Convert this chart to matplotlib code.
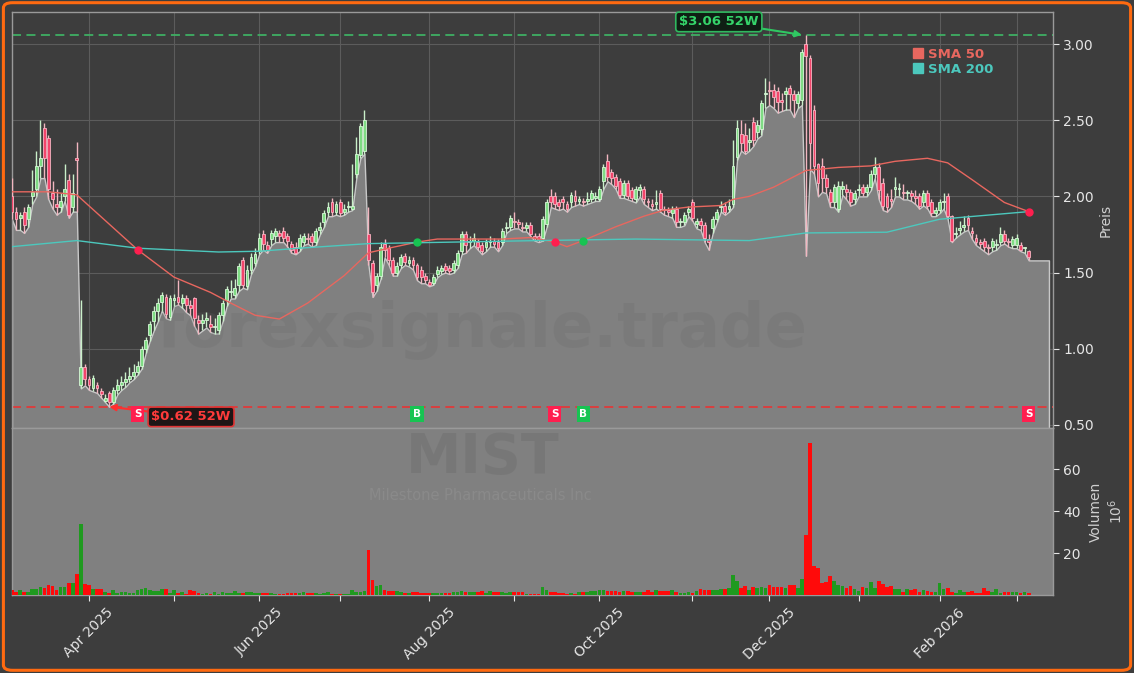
import numpy as np
import pandas as pd
import matplotlib
matplotlib.use("Agg")
import matplotlib.pyplot as plt
from matplotlib.lines import Line2D
from matplotlib.patches import FancyBboxPatch

# daily candles, MIST, 2025-03-05 .. 2026-03-05
opens = [
    2.00, 1.90, 1.86, 1.90, 1.85, 2.00, 2.05, 2.20, 2.45, 2.38,
    2.02, 1.95, 1.93, 2.00, 2.11, 1.93, 2.25, 0.76, 0.88, 0.80,
    0.74, 0.76, 0.72, 0.66, 0.71, 0.65, 0.73, 0.76, 0.78, 0.80,
    0.82, 0.85, 0.89, 1.00, 1.09, 1.18, 1.25, 1.31, 1.34, 1.21,
    1.32, 1.34, 1.30, 1.33, 1.29, 1.33, 1.19, 1.17, 1.19, 1.16,
    1.14, 1.12, 1.22, 1.32, 1.37, 1.35, 1.42, 1.58, 1.41, 1.52,
    1.56, 1.64, 1.75, 1.68, 1.72, 1.74, 1.76, 1.77, 1.74, 1.69,
    1.67, 1.66, 1.70, 1.73, 1.74, 1.70, 1.78, 1.83, 1.90, 1.96,
    1.90, 1.96, 1.90, 1.93, 1.92, 2.15, 2.27, 2.30, 1.75, 1.56,
    1.42, 1.48, 1.69, 1.66, 1.58, 1.50, 1.55, 1.61, 1.56, 1.58,
    1.55, 1.52, 1.48, 1.44, 1.43, 1.49, 1.51, 1.54, 1.53, 1.52,
    1.55, 1.64, 1.75, 1.70, 1.71, 1.70, 1.68, 1.67, 1.70, 1.71,
    1.70, 1.70, 1.79, 1.80, 1.84, 1.83, 1.80, 1.79, 1.81, 1.74,
    1.74, 1.73, 1.82, 2.00, 2.00, 1.96, 1.98, 1.95, 1.96, 2.00,
    1.97, 1.97, 1.97, 1.98, 1.99, 1.98, 2.10, 2.23, 2.16, 2.13,
    2.10, 2.01, 2.09, 2.04, 1.98, 2.04, 2.05, 1.97, 1.95, 1.95,
    2.02, 1.92, 1.91, 1.89, 1.92, 1.83, 1.83, 1.90, 1.96, 1.82,
    1.84, 1.81, 1.72, 1.79, 1.85, 1.93, 1.94, 1.92, 1.95, 2.26,
    2.41, 2.40, 2.36, 2.49, 2.42, 2.44, 2.67, 2.70, 2.70, 2.69,
    2.63, 2.67, 2.71, 2.67, 2.61, 2.63, 3.00, 2.91, 2.57, 2.21,
    2.20, 2.12, 2.03, 1.96, 1.92, 2.05, 2.05, 2.03, 1.98, 2.04,
    2.06, 2.03, 2.06, 2.15, 2.19, 2.09, 2.00, 1.98, 2.05, 2.05,
    2.03, 2.02, 2.02, 2.00, 2.00, 1.96, 2.02, 1.96, 1.89, 1.91,
    1.96, 2.00, 1.87, 1.75, 1.78, 1.80, 1.86, 1.77, 1.73, 1.70,
    1.71, 1.67, 1.67, 1.68, 1.70, 1.75, 1.71, 1.68, 1.68, 1.68,
    1.66, 1.64,
]
highs = [
    2.12, 1.93, 1.90, 1.93, 1.95, 2.17, 2.30, 2.50, 2.48, 2.40,
    2.10, 2.05, 2.02, 2.21, 2.15, 2.15, 2.36, 1.32, 0.90, 0.82,
    0.83, 0.78, 0.74, 0.70, 0.72, 0.75, 0.80, 0.82, 0.85, 0.88,
    0.90, 0.92, 1.02, 1.08, 1.18, 1.28, 1.33, 1.37, 1.36, 1.35,
    1.36, 1.45, 1.36, 1.35, 1.32, 1.34, 1.22, 1.23, 1.24, 1.22,
    1.20, 1.24, 1.32, 1.41, 1.45, 1.46, 1.56, 1.60, 1.55, 1.63,
    1.66, 1.76, 1.78, 1.71, 1.78, 1.79, 1.78, 1.80, 1.76, 1.71,
    1.70, 1.75, 1.76, 1.76, 1.76, 1.79, 1.83, 1.91, 1.96, 1.99,
    1.97, 1.98, 1.95, 1.97, 2.21, 2.39, 2.48, 2.57, 1.93, 1.58,
    1.50, 1.70, 1.72, 1.68, 1.60, 1.57, 1.62, 1.63, 1.61, 1.60,
    1.56, 1.54, 1.50, 1.46, 1.49, 1.54, 1.55, 1.56, 1.55, 1.58,
    1.65, 1.77, 1.77, 1.74, 1.76, 1.72, 1.70, 1.72, 1.74, 1.73,
    1.72, 1.79, 1.83, 1.88, 1.90, 1.85, 1.83, 1.83, 1.83, 1.76,
    1.76, 1.87, 1.98, 2.05, 2.03, 1.98, 2.00, 1.97, 2.03, 2.04,
    2.00, 1.99, 2.03, 2.04, 2.03, 2.07, 2.21, 2.28, 2.18, 2.15,
    2.12, 2.11, 2.11, 2.06, 2.07, 2.08, 2.07, 1.99, 1.98, 2.04,
    2.04, 1.94, 1.93, 1.94, 1.94, 1.86, 1.90, 1.94, 1.98, 1.86,
    1.86, 1.83, 1.75, 1.87, 1.92, 1.97, 1.96, 1.98, 2.37, 2.50,
    2.50, 2.48, 2.45, 2.52, 2.50, 2.63, 2.78, 2.76, 2.74, 2.72,
    2.68, 2.72, 2.73, 2.70, 2.69, 2.97, 3.06, 2.93, 2.60, 2.22,
    2.25, 2.15, 2.05, 2.08, 2.10, 2.10, 2.08, 2.05, 2.04, 2.08,
    2.08, 2.08, 2.17, 2.26, 2.22, 2.12, 2.02, 2.05, 2.13, 2.09,
    2.08, 2.04, 2.04, 2.04, 2.02, 2.04, 2.04, 1.98, 1.93, 1.98,
    2.02, 2.02, 1.88, 1.80, 1.84, 1.87, 1.88, 1.80, 1.75, 1.72,
    1.73, 1.69, 1.73, 1.72, 1.80, 1.78, 1.73, 1.74, 1.75, 1.70,
    1.67, 1.65,
]
lows = [
    1.85, 1.78, 1.78, 1.76, 1.80, 1.95, 2.00, 2.12, 2.12, 1.98,
    1.92, 1.88, 1.90, 1.97, 1.86, 1.90, 1.90, 0.74, 0.76, 0.73,
    0.72, 0.71, 0.68, 0.65, 0.62, 0.64, 0.70, 0.73, 0.75, 0.78,
    0.80, 0.83, 0.87, 0.97, 1.05, 1.12, 1.18, 1.25, 1.20, 1.19,
    1.28, 1.29, 1.27, 1.24, 1.22, 1.15, 1.10, 1.12, 1.14, 1.11,
    1.10, 1.10, 1.18, 1.28, 1.33, 1.33, 1.38, 1.40, 1.39, 1.49,
    1.54, 1.62, 1.65, 1.63, 1.68, 1.70, 1.70, 1.70, 1.67, 1.63,
    1.62, 1.64, 1.68, 1.69, 1.67, 1.68, 1.75, 1.80, 1.87, 1.87,
    1.88, 1.87, 1.88, 1.90, 1.91, 2.12, 2.25, 2.28, 1.55, 1.34,
    1.38, 1.46, 1.60, 1.55, 1.48, 1.48, 1.53, 1.55, 1.54, 1.52,
    1.45, 1.43, 1.43, 1.41, 1.42, 1.47, 1.49, 1.50, 1.49, 1.50,
    1.53, 1.62, 1.63, 1.66, 1.68, 1.65, 1.62, 1.64, 1.67, 1.67,
    1.64, 1.68, 1.76, 1.78, 1.79, 1.79, 1.77, 1.77, 1.74, 1.71,
    1.70, 1.71, 1.80, 1.93, 1.92, 1.91, 1.92, 1.90, 1.93, 1.94,
    1.95, 1.94, 1.95, 1.96, 1.97, 1.97, 2.05, 2.10, 2.08, 2.05,
    1.99, 1.99, 1.98, 1.97, 1.96, 2.00, 1.95, 1.93, 1.91, 1.92,
    1.90, 1.88, 1.87, 1.86, 1.80, 1.80, 1.81, 1.87, 1.84, 1.79,
    1.78, 1.70, 1.65, 1.76, 1.83, 1.90, 1.88, 1.90, 1.93, 2.24,
    2.30, 2.28, 2.30, 2.33, 2.38, 2.40, 2.58, 2.60, 2.58, 2.55,
    2.56, 2.57, 2.57, 2.52, 2.58, 2.60, 1.61, 2.18, 2.15, 2.00,
    2.03, 2.02, 1.93, 1.93, 1.90, 2.01, 1.98, 1.94, 1.95, 2.00,
    2.00, 2.00, 2.04, 2.12, 1.98, 1.91, 1.90, 1.93, 2.00, 2.00,
    1.98, 1.98, 1.97, 1.95, 1.92, 1.94, 1.92, 1.87, 1.87, 1.89,
    1.92, 1.85, 1.70, 1.73, 1.75, 1.77, 1.78, 1.72, 1.68, 1.66,
    1.64, 1.62, 1.64, 1.65, 1.68, 1.69, 1.67, 1.66, 1.66, 1.64,
    1.63, 1.58,
]
closes = [
    1.90, 1.85, 1.88, 1.81, 1.93, 2.03, 2.20, 2.25, 2.25, 2.05,
    1.98, 1.93, 1.97, 2.05, 1.88, 2.02, 2.24, 0.88, 0.80, 0.76,
    0.81, 0.74, 0.70, 0.68, 0.65, 0.73, 0.76, 0.78, 0.80, 0.82,
    0.85, 0.89, 1.00, 1.06, 1.16, 1.25, 1.30, 1.35, 1.23, 1.33,
    1.33, 1.31, 1.33, 1.29, 1.27, 1.20, 1.17, 1.19, 1.20, 1.14,
    1.15, 1.22, 1.30, 1.39, 1.38, 1.40, 1.54, 1.42, 1.52, 1.60,
    1.62, 1.73, 1.69, 1.65, 1.76, 1.77, 1.74, 1.73, 1.71, 1.65,
    1.63, 1.73, 1.74, 1.72, 1.70, 1.77, 1.80, 1.89, 1.93, 1.90,
    1.95, 1.89, 1.92, 1.94, 1.94, 2.28, 2.46, 2.50, 1.58, 1.37,
    1.48, 1.67, 1.65, 1.58, 1.50, 1.54, 1.60, 1.57, 1.58, 1.55,
    1.47, 1.47, 1.45, 1.42, 1.47, 1.52, 1.53, 1.52, 1.51, 1.56,
    1.63, 1.75, 1.68, 1.71, 1.73, 1.67, 1.64, 1.70, 1.71, 1.69,
    1.66, 1.77, 1.80, 1.86, 1.83, 1.82, 1.79, 1.81, 1.75, 1.73,
    1.72, 1.85, 1.96, 1.96, 1.95, 1.94, 1.96, 1.92, 2.01, 1.97,
    1.98, 1.96, 1.98, 2.02, 2.00, 2.05, 2.19, 2.13, 2.12, 2.07,
    2.01, 2.09, 2.00, 1.99, 2.05, 2.06, 1.98, 1.96, 1.94, 1.96,
    1.92, 1.91, 1.90, 1.92, 1.83, 1.84, 1.88, 1.92, 1.86, 1.84,
    1.81, 1.73, 1.70, 1.85, 1.90, 1.94, 1.90, 1.94, 2.20, 2.45,
    2.35, 2.30, 2.37, 2.37, 2.47, 2.61, 2.68, 2.69, 2.65, 2.62,
    2.62, 2.69, 2.67, 2.63, 2.67, 2.95, 2.92, 2.35, 2.20, 2.09,
    2.12, 2.06, 1.96, 2.06, 2.07, 2.07, 2.03, 1.96, 2.02, 2.05,
    2.02, 2.06, 2.15, 2.19, 2.04, 1.94, 1.93, 1.97, 2.06, 2.05,
    2.02, 2.02, 2.00, 1.99, 1.94, 2.02, 1.94, 1.89, 1.91, 1.96,
    1.97, 1.87, 1.71, 1.76, 1.79, 1.81, 1.81, 1.76, 1.70, 1.69,
    1.67, 1.66, 1.71, 1.69, 1.75, 1.71, 1.70, 1.72, 1.73, 1.65,
    1.66, 1.60,
]
# volume in millions of shares
volume = [
    2.4, 1.2, 2.4, 1.6, 1.6, 2.7, 2.7, 4.0, 3.2, 4.8,
    4.3, 2.4, 3.7, 3.7, 5.9, 5.9, 10.0, 33.8, 5.2, 4.8,
    2.7, 2.7, 2.7, 1.6, 0.8, 2.4, 1.1, 1.4, 1.4, 0.8,
    0.8, 2.4, 2.7, 3.2, 2.4, 2.0, 2.0, 2.7, 3.0, 0.8,
    2.4, 0.8, 1.6, 0.5, 2.4, 2.0, 0.8, 0.5, 1.1, 0.5,
    1.2, 0.5, 1.2, 0.8, 1.1, 2.0, 1.1, 1.1, 1.4, 1.2,
    1.0, 1.0, 1.0, 1.0, 1.0, 0.7, 0.7, 0.7, 1.1, 1.1,
    1.1, 1.1, 1.2, 1.1, 0.8, 1.0, 0.6, 1.0, 1.4, 0.5,
    0.5, 0.5, 0.5, 0.5, 2.4, 1.6, 1.6, 2.0, 21.4, 7.1,
    4.4, 4.8, 2.4, 2.1, 2.1, 2.1, 1.6, 1.1, 1.1, 1.6,
    1.6, 0.8, 0.8, 0.8, 1.1, 1.1, 0.8, 1.1, 1.1, 1.4,
    1.4, 2.1, 1.6, 1.4, 1.4, 1.4, 1.9, 0.8, 1.9, 1.4,
    1.4, 1.4, 0.8, 1.4, 1.4, 1.4, 1.4, 0.5, 0.5, 0.5,
    0.5, 4.0, 2.4, 1.4, 1.4, 0.8, 0.8, 0.6, 1.0, 0.6,
    1.4, 1.4, 1.4, 1.9, 1.9, 2.4, 2.4, 2.1, 2.1, 2.1,
    1.4, 2.1, 2.1, 1.4, 1.4, 1.4, 1.4, 2.4, 1.4, 2.4,
    1.8, 1.8, 1.8, 2.4, 1.4, 1.0, 1.0, 1.4, 0.8, 1.9,
    2.7, 2.2, 2.2, 2.2, 2.2, 2.9, 2.9, 3.2, 9.5, 6.7,
    3.2, 4.3, 2.4, 4.0, 3.2, 4.0, 3.2, 4.8, 4.0, 4.0,
    4.0, 3.2, 4.8, 4.8, 3.2, 7.8, 28.6, 72.5, 13.8, 12.9,
    5.5, 6.0, 9.0, 6.7, 4.8, 4.3, 3.5, 4.3, 2.7, 2.1,
    4.0, 3.2, 6.0, 3.2, 6.7, 5.2, 3.7, 4.3, 2.7, 2.7,
    1.4, 2.9, 2.4, 2.7, 1.4, 2.4, 2.1, 1.6, 1.2, 5.9,
    2.7, 3.5, 1.6, 1.0, 2.4, 1.6, 1.6, 1.9, 1.0, 1.0,
    3.5, 2.1, 1.6, 2.9, 1.0, 1.4, 1.4, 1.4, 1.4, 1.0,
    1.4, 1.0,
]

# moving averages (trading-day index, value)
sma50_idx = [0, 9, 16, 31, 40, 49, 54, 60, 66, 73, 82, 88, 93, 100, 105, 113,
             121, 128, 134, 137, 141, 149, 156, 161, 167, 175, 178, 182, 188,
             196, 204, 212, 218, 226, 231, 237, 245, 251]
sma50_val = [2.03, 2.03, 2.01, 1.65, 1.47, 1.37, 1.30, 1.22, 1.195, 1.30, 1.48,
             1.63, 1.66, 1.70, 1.72, 1.72, 1.72, 1.73, 1.70, 1.67, 1.71, 1.80,
             1.87, 1.91, 1.93, 1.94, 1.98, 2.00, 2.06, 2.17, 2.19, 2.20, 2.23,
             2.25, 2.22, 2.11, 1.96, 1.90]
sma200_idx = [0, 16, 31, 51, 61, 71, 88, 130, 154, 182, 196, 216, 229, 251]
sma200_val = [1.67, 1.71, 1.66, 1.635, 1.64, 1.66, 1.69, 1.71, 1.72, 1.71,
              1.76, 1.765, 1.85, 1.90]

# SMA crossings
signal_idx = [31, 100, 134, 141, 251]
signal_type = ["S", "B", "S", "B", "S"]

low_52w = 0.62
high_52w = 3.06

holidays = ["2025-04-18", "2025-05-26", "2025-06-19", "2025-07-04", "2025-09-01",
            "2025-11-27", "2025-12-25", "2026-01-01", "2026-01-19", "2026-02-16"]
dates = pd.bdate_range("2025-03-05", "2026-03-05")
dates = dates[~dates.isin(pd.to_datetime(holidays))]

n = len(closes)
x = np.arange(n)
o = np.array(opens)
h = np.array(highs)
l = np.array(lows)
c = np.array(closes)
up = c >= o

BG = "#3d3d3d"
AREA = "#808080"
TXT = "#e6e6e6"
RED50 = "#e8675f"
TEAL = "#4cc8bd"

fig = plt.figure(figsize=(11.34, 6.73), dpi=100, facecolor=BG)
ax = fig.add_axes([12 / 1134, 245 / 673, 1041 / 1134, 416 / 673], facecolor=BG)
axv = fig.add_axes([12 / 1134, 78 / 673, 1041 / 1134, 167 / 673], facecolor=AREA)

# month starts for grid / ticks
month_pos = [i for i in range(1, n) if dates[i].month != dates[i - 1].month]
month_lab = [dates[i].strftime("%b %Y") if dates[i].month % 2 == 0 else "" for i in month_pos]

# ---- price panel
ax.set_xlim(0, n + 5)
ax.set_ylim(0.48, 3.21)
ax.set_axisbelow(True)
ax.grid(True, color="#5c5c5c", lw=0.8)
ax.set_xticks(month_pos)
ax.tick_params(axis="x", length=0, labelbottom=False)
ax.yaxis.tick_right()
ax.yaxis.set_label_position("right")
ax.set_yticks([0.5, 1.0, 1.5, 2.0, 2.5, 3.0])
ax.set_yticklabels(["%.2f" % v for v in [0.5, 1.0, 1.5, 2.0, 2.5, 3.0]])
ax.tick_params(axis="y", colors=TXT, labelsize=10, length=4)
ax.set_ylabel("Preis", color="#cfcfcf", fontsize=10, labelpad=3)
for s in ax.spines.values():
    s.set_color("#9a9a9a")
    s.set_linewidth(1)

# area under the lows, held flat to the right edge
ax.fill_between(list(x) + [n + 4], list(l) + [l[-1]], 0, facecolor=AREA,
                edgecolor="#c8c8c8", lw=1, zorder=1)

ax.text(0.452, 0.235, "forexsignale.trade", transform=ax.transAxes, ha="center",
        va="center", fontsize=45, fontweight="bold", color="#666666", alpha=0.2, zorder=1.5)

# candles
wick_col = np.where(up, "#c9efc9", "#f2b6c0")
ax.vlines(x, l, h, colors=wick_col, lw=1, zorder=3)
body_b = np.minimum(o, c)
body_h = np.maximum(np.abs(c - o), 0.008)
ax.bar(x[up], body_h[up], bottom=body_b[up], width=0.7, color="#7fdc84",
       edgecolor="#d9f7d9", lw=0.6, zorder=4)
ax.bar(x[~up], body_h[~up], bottom=body_b[~up], width=0.7, color="#f2456b",
       edgecolor="#f8b4c2", lw=0.6, zorder=4)

# SMAs
ax.plot(sma50_idx, sma50_val, color=RED50, lw=1, zorder=5)
ax.plot(sma200_idx, sma200_val, color=TEAL, lw=1, zorder=5)

# 52 week lines
ax.axhline(high_52w, color="#3fae63", lw=1.3, ls=(0, (5, 3)), zorder=2)
ax.axhline(low_52w, color="#e03a3a", lw=1.3, ls=(0, (5, 3)), zorder=2)
i_hi = int(np.argmax(h))
i_lo = int(np.argmin(l))
ax.annotate(r"\$%.2f 52W" % high_52w, xy=(i_hi - 1, high_52w), xytext=(174.5, 3.145),
            ha="center", va="center", color="#35d46a", fontsize=9.5, fontweight="bold",
            bbox=dict(boxstyle="round,pad=0.25", fc="#0f1f14", ec="#2fb85e", lw=1.2),
            arrowprops=dict(arrowstyle="-|>", color="#2fc862", lw=1.5, shrinkA=0, shrinkB=0),
            zorder=8)
ax.annotate(r"\$%.2f 52W" % low_52w, xy=(i_lo, low_52w), xytext=(44.2, 0.553),
            ha="center", va="center", color="#ff3b3b", fontsize=9.5, fontweight="bold",
            bbox=dict(boxstyle="round,pad=0.25", fc="#1e1616", ec="#e03434", lw=1.2),
            arrowprops=dict(arrowstyle="-|>", color="#ff2e2e", lw=1.5, shrinkA=0, shrinkB=0),
            zorder=8)

# crossing dots and B/S tags
for si, st in zip(signal_idx, signal_type):
    yv = np.interp(si, sma50_idx, sma50_val)
    col = "#17c452" if st == "B" else "#ff1f4f"
    ax.plot(si, yv, "o", color=col, ms=5, zorder=6)
    ax.text(si, 0.572, st, ha="center", va="center", color="white", fontsize=7.5,
            fontweight="bold", zorder=8,
            bbox=dict(boxstyle="square,pad=0.25", fc=col, ec="none"))

handles = [Line2D([], [], marker="s", ls="", color=RED50, ms=7),
           Line2D([], [], marker="s", ls="", color=TEAL, ms=7)]
ax.legend(handles, ["SMA 50", "SMA 200"], loc="upper left", bbox_to_anchor=(0.86, 0.93),
          frameon=False, labelcolor=[RED50, TEAL], prop={"weight": "bold", "size": 9.5},
          handlelength=0.7, handletextpad=0.4, labelspacing=0.15, borderpad=0)

# ---- volume panel
vcol = np.where(up, "#1f9a1f", "#ff0a0a")
axv.bar(x, volume, width=0.9, color=vcol, zorder=3)
axv.set_xlim(0, n + 5)
axv.set_ylim(0, max(volume) * 1.1)
axv.set_xticks(month_pos)
axv.set_xticklabels(month_lab, rotation=45, ha="center")
axv.tick_params(axis="x", colors=TXT, labelsize=10, length=4)
axv.yaxis.tick_right()
axv.yaxis.set_label_position("right")
axv.set_yticks([20, 40, 60])
axv.tick_params(axis="y", colors=TXT, labelsize=10, length=4)
axv.set_ylabel("Volumen\n$10^6$", color="#cfcfcf", fontsize=10, labelpad=6)
for s in axv.spines.values():
    s.set_color("#9a9a9a")
    s.set_linewidth(1)

axv.text(0.452, 0.82, "MIST", transform=axv.transAxes, ha="center", va="center",
         fontsize=40, fontweight="bold", color="#666666", alpha=0.32, zorder=1)
axv.text(0.450, 0.595, "Milestone Pharmaceuticals Inc", transform=axv.transAxes,
         ha="center", va="center", fontsize=10.5, color="#8a8a8a", zorder=1)

# orange frame
fig.patches.append(FancyBboxPatch((0.003, 0.004), 0.994, 0.992,
                                  boxstyle="round,pad=0,rounding_size=0.008",
                                  transform=fig.transFigure, fill=False,
                                  ec="#ff6a10", lw=2.2))

fig.savefig("out.png", dpi=100, facecolor=BG)
